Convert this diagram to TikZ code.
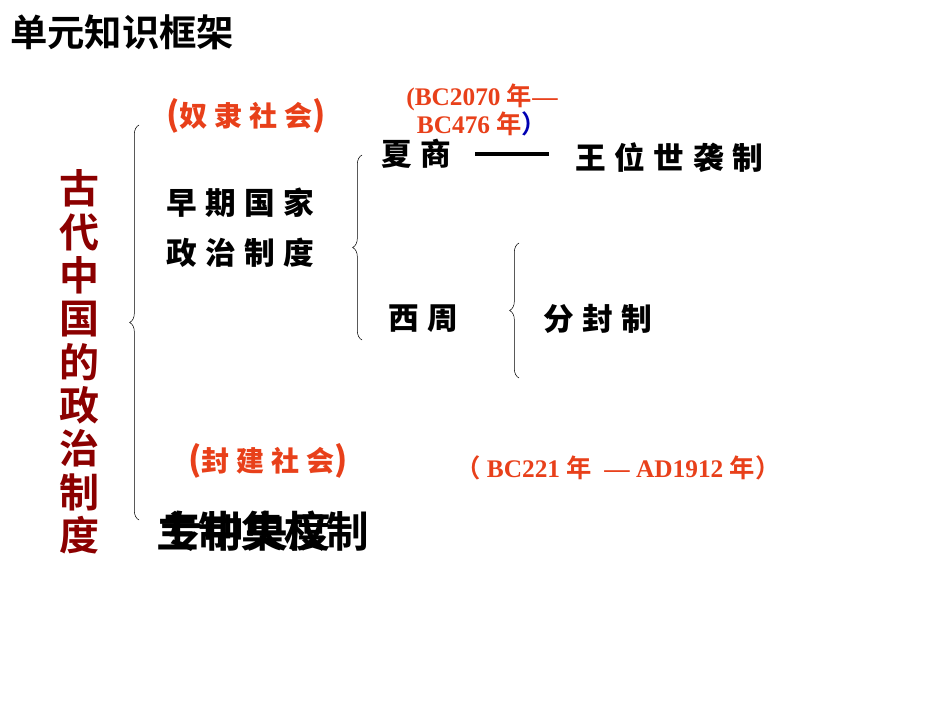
\documentclass[tikz,border=0pt]{standalone}
\usepackage{fontspec}
\usetikzlibrary{decorations.pathreplacing}
\newfontfamily\cjk{Noto Sans CJK SC}[BoldFont={Noto Sans CJK SC Bold}]
\newfontfamily\cjks{Noto Sans CJK SC Black}[LetterSpace=28]
\newfontfamily\cjkr{Noto Sans CJK SC Black}[LetterSpace=25]
\newfontfamily\tnr{Liberation Serif}
\definecolor{dred}{HTML}{8B0000}
\definecolor{ored}{HTML}{E8401A}
\begin{document}
\begin{tikzpicture}[x=0.75pt,y=-0.75pt,
  lbl/.style={inner sep=0,anchor=west,font=\cjks\fontsize{23}{25}\selectfont},
  red/.style={inner sep=0,anchor=west,text=ored,font=\cjkr\fontsize{21}{23}\selectfont},
  dt/.style={inner sep=0,text=ored,font=\tnr\bfseries\fontsize{19}{21}\selectfont},
  br/.style={draw,thin,decorate,decoration={brace,amplitude=7pt,mirror}}]
\useasboundingbox (0,0) rectangle (950,713);
\node[inner sep=0,anchor=west,font=\cjk\bfseries\fontsize{28}{30}\selectfont] (title) at (10,32) {单元知识框架};
\node[inner sep=0,text=dred,align=center,font=\cjk\bfseries\fontsize{30}{32.5}\selectfont] (vert) at (79,362) {古\\代\\中\\国\\的\\政\\治\\制\\度};
\coordinate (b1t) at (139,125); \coordinate (b1b) at (139,520);
\draw[br] (b1t) -- (b1b);
\node[red] (nl) at (166,116) {{\fontsize{25}{25}\selectfont (}奴隶社会{\fontsize{25}{25}\selectfont )}};
\node[lbl] (zq) at (166,203) {早期国家};
\node[lbl] (zz) at (166,253) {政治制度};
\coordinate (b2t) at (362,155); \coordinate (b2b) at (362,340);
\draw[br] (b2t) -- (b2b);
\node[dt,align=center] (d1) at (482,110) {(BC2070 {\cjk\bfseries 年}—\\BC476 {\cjk\bfseries 年}\textcolor{blue!70!black}{\cjk ）}};
\node[lbl] (xs) at (381,154) {夏商};
\node[lbl] (wang) at (575,158) {王位世袭制};
\draw[line width=2.5pt] (475,154) -- (549,154);
\node[lbl] (xz) at (388,319) {西周};
\coordinate (b3t) at (519,243); \coordinate (b3b) at (519,378);
\draw[br] (b3t) -- (b3b);
\node[lbl] (ff) at (543,319) {分封制};
\node[red] (fj) at (188,461) {{\fontsize{25}{25}\selectfont (}封建社会{\fontsize{25}{25}\selectfont )}};
\node[dt,anchor=west] (d2) at (455,468) {{\cjk （} BC221 {\cjk\bfseries 年}\ \ — AD1912 {\cjk\bfseries 年}{\cjk ）}};
\node[inner sep=0,anchor=west,font=\cjk\bfseries\fontsize{32}{34}\selectfont] (z1) at (156,531) {主制集权制};
\node[inner sep=0,anchor=west,font=\cjk\bfseries\fontsize{32}{34}\selectfont] (z2) at (160,531) {专中央度};
\end{tikzpicture}
\end{document}
